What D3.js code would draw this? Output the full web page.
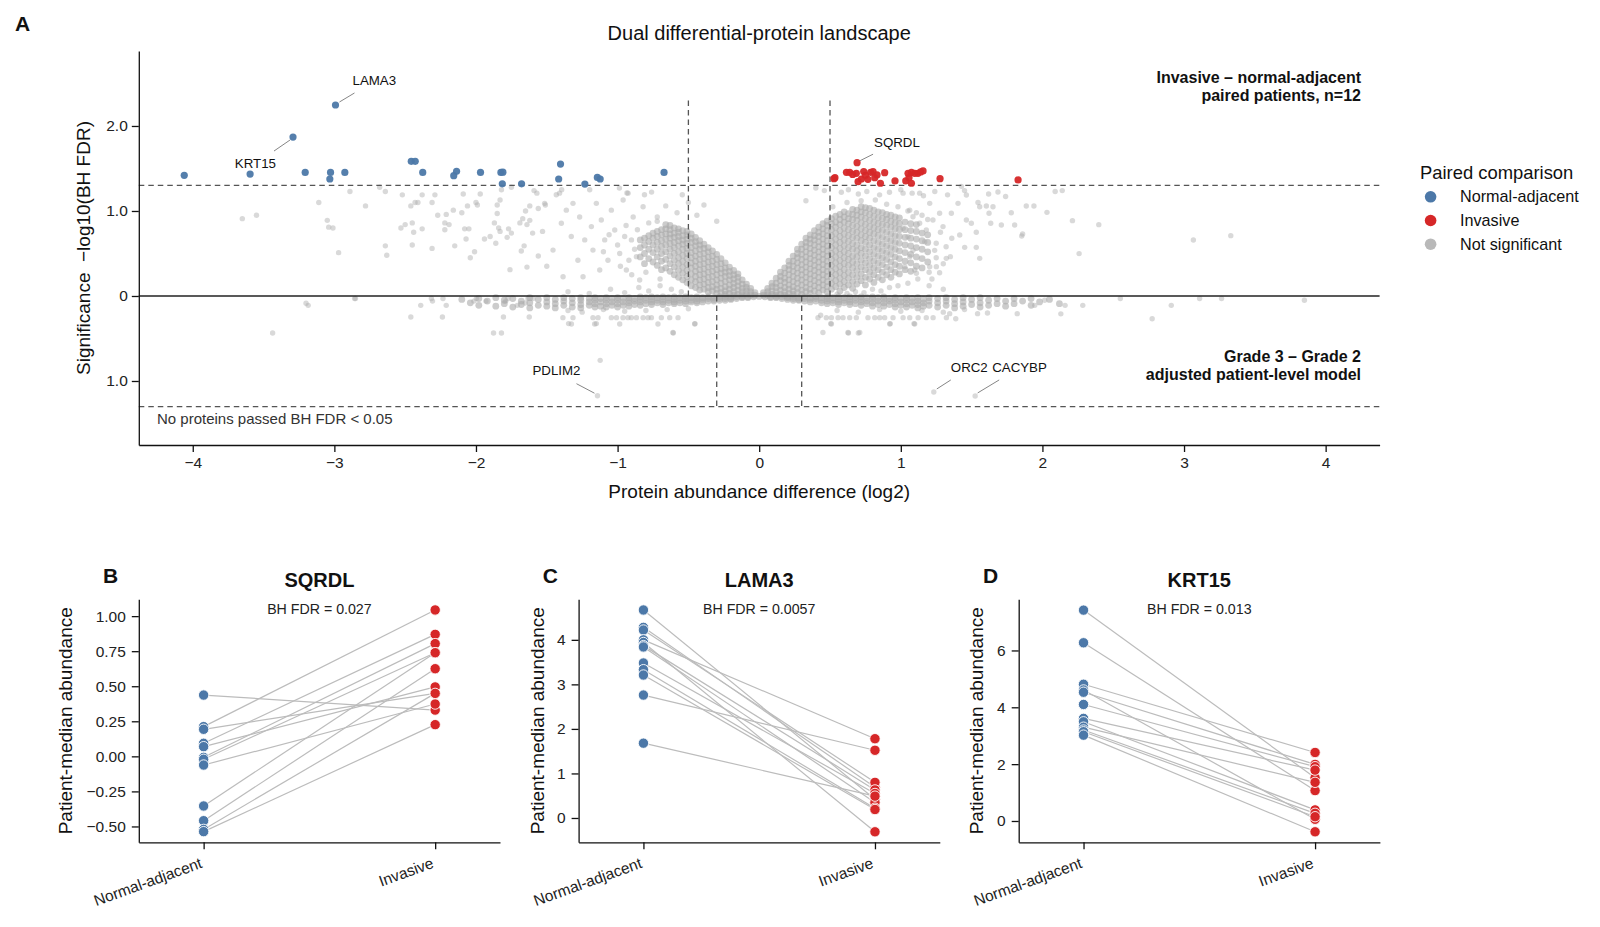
<!DOCTYPE html>
<meta charset="utf-8">
<head>
  <title>Dual differential-protein landscape</title>
</head>

<style>
body {
  margin: 0;
  background: #fff;
  font-family: "Liberation Sans", Arial, Helvetica, sans-serif;
}
text {
  fill: #111;
}
.axis path, .axis line {
  stroke: #111;
  stroke-width: 1.3;
}
.axis text {
  font-size: 15.5px;
  fill: #222;
  font-family: "Liberation Sans", Arial, sans-serif;
}
</style>

<body>
  <svg width="1600" height="927"></svg>

  <script src="https://cdnjs.cloudflare.com/ajax/libs/d3/7.8.5/d3.min.js"></script>

  <script>
  // ---------- panel A data: [log2 difference, signed -log10(BH FDR)] ----------
  // upper half = invasive vs normal-adjacent, lower half = grade 3 vs grade 2 (drawn negative)
  var normalHits = [
    [-4.06,1.419],[-3.595,1.434],[-3.292,1.870],[-2.992,2.247],[-3.206,1.454],[-3.027,1.454],
    [-3.032,1.376],[-2.926,1.454],[-2.457,1.584],[-2.429,1.584],[-2.376,1.454],[-2.157,1.415],
    [-2.137,1.466],[-1.968,1.454],[-1.824,1.454],[-1.81,1.456],[-1.814,1.320],[-1.678,1.320],
    [-1.403,1.552],[-1.416,1.376],[-1.231,1.317],[-1.143,1.395],[-1.123,1.376],[-0.672,1.454]
  ];
  var invasiveHits = [
    [0.691,1.568],[0.535,1.392],[0.528,1.38],[0.616,1.455],[0.639,1.455],[0.686,1.443],
    [0.698,1.345],[0.722,1.376],[0.738,1.463],[0.768,1.372],[0.787,1.455],[0.804,1.463],
    [0.816,1.392],[0.832,1.424],[0.856,1.326],[0.886,1.451],[0.959,1.353],[1.035,1.353],
    [1.051,1.443],[1.075,1.455],[1.075,1.326],[1.098,1.443],[1.121,1.443],[1.157,1.471],
    [1.058,1.392],[1.277,1.380],[1.828,1.365],[1.14,1.46],[0.66,1.43],[0.75,1.42]
  ];
  var upperSparse = [
    [-3.65,0.91],[-3.55,0.95],[-3.11,1.10],[-3.05,0.89],[-3.04,0.81],[-3.01,0.80],[-2.97,0.51],
    [-2.89,1.23],[-2.78,1.06],[-2.68,1.28],[-2.64,1.23],[-2.64,0.59],[-2.63,0.48],[-2.53,0.80],
    [-2.52,1.19],[-2.50,0.84],[-2.46,1.06],[-2.45,0.86],[-2.44,0.75],[-2.45,0.60],[-2.43,1.10],
    [-2.41,1.10],[-2.38,1.19],[-2.38,0.79],[-2.31,0.56],[-2.31,1.10],[-2.29,1.19],[-2.27,0.95],
    [-2.22,0.86],[-2.22,0.78],[-2.21,0.96],[-2.19,0.84],[-2.16,1.01],[-2.15,0.59],[-2.10,0.98],
    [-2.09,1.20],[-2.08,0.79],[-2.07,0.67],[-2.06,1.06],[-2.05,0.79],[-2.04,0.45],[-2.01,0.52],
    [-2.00,1.10],[-1.99,1.07],[-1.97,1.20],[-1.94,0.67],[-1.90,0.70],[-1.87,0.86],[-1.86,0.62],
    [-1.85,0.97],[-1.85,1.07],[-1.84,0.80],[-1.83,0.76],[-1.83,1.13],[-1.82,1.25],[-1.78,0.69],
    [-1.77,0.79],[-1.76,0.31],[-1.75,0.74],[-1.75,1.28],[-1.69,0.86],[-1.68,0.53],[-1.67,0.91],
    [-1.66,0.59],[-1.65,1.00],[-1.64,0.34],[-1.64,0.84],[-1.62,1.06],[-1.62,0.89],[-1.60,0.74],
    [-1.59,1.24],[-1.57,1.21],[-1.56,0.47],[-1.56,1.03],[-1.53,0.76],[-1.51,1.07],[-1.50,0.35],
    [-1.515,1.09],[-1.456,0.54],[-1.41,1.21],[-1.397,0.855],[-1.385,0.227],[-1.362,1.01],
    [-1.327,0.70],[-1.315,1.09],[-1.28,0.42],[-1.268,0.93],[-1.244,0.227],[-1.232,0.66],
    [-1.197,1.25],[-1.185,0.816],[-1.174,0.54],[-1.15,1.09],[-1.126,0.306],[-1.115,0.894],
    [-1.091,0.66],[-1.068,0.42],[-1.044,1.01],[-1.02,0.776],[-0.985,0.50],[-0.961,1.13],
    [-0.938,0.306],[-0.926,1.21],[-0.902,0.66],[-0.89,0.93],[-0.867,0.463],[-0.844,0.188],
    [-1.433,1.191],[-1.395,1.25],[-0.987,1.269],[-0.934,1.211],[-0.81,1.191],[-0.76,1.222],
    [-0.543,1.191],[-0.82,1.05],[-0.72,0.93],[-0.66,1.06],[-0.58,0.98],[-0.5,1.1],[-0.44,0.95],
    [-0.39,1.07],[-0.3,0.88],
    [-0.88,0.55],[-0.92,0.42],[-0.95,0.70],[-1.0,0.60],[-0.98,0.35],[-0.9,0.25],[-0.86,0.78],
    [-0.78,0.86],[-0.72,0.88],[-0.94,0.83],[-1.06,0.72],[-1.1,0.52],[-0.8,0.28],[-0.7,0.2],
    [0.33,1.12],[0.40,1.27],[0.46,1.24],[0.58,1.22],[0.63,1.25],[0.70,1.20],[0.76,1.23],
    [0.85,1.19],[0.92,1.22],[1.00,1.25],[1.08,1.21],[1.16,1.18],[1.24,1.23],[1.33,1.19],
    [1.45,1.24],[1.62,1.20],[1.74,1.17],
    [0.52,1.05],[0.62,1.1],[0.72,1.12],[0.82,1.13],[0.9,1.08],[0.98,1.05],[1.05,1.0],
    [1.22,0.2],[1.25,0.62],[1.28,0.75],[1.32,0.58],[1.36,0.68],[1.19,0.90],[1.15,0.95],
    [1.11,0.98],[1.25,0.45],[1.2,0.28],[1.3,0.38],
    [1.016,1.21],[1.133,1.21],[1.428,1.29],[1.463,1.188],[1.686,1.224],[1.886,1.059],[1.94,1.059],
    [2.032,0.984],[2.212,0.886],[2.398,0.839],[3.066,0.659],[3.33,0.71],[2.259,0.498],[1.854,0.706],
    [1.86,0.73],[1.804,0.835],[1.78,0.98],[1.71,0.835],[1.635,0.855],[1.623,0.973],[1.651,1.05],
    [1.604,1.059],[1.557,1.05],[1.545,1.1],[1.533,0.75],[1.557,0.443],[1.533,0.572],[1.451,0.572],
    [1.35,0.463],[1.321,0.443],[1.274,0.274],[1.251,0.345],[1.204,0.345],[1.098,0.306],[1.11,0.267],
    [1.028,0.345],[1.086,0.537],[1.239,0.537],[1.416,0.718],[1.463,0.894],[1.498,0.855],[1.404,1.09],
    [1.357,0.973],[1.274,0.973],[1.227,0.894],[1.298,0.816],[1.18,0.776],[1.133,0.855],[1.086,0.933],
    [1.063,1.01],[1.204,1.09],[1.169,0.639],[1.051,0.698],[1.016,0.796],[1.063,0.463],
    [2.09,1.23],[2.14,1.24]
  ];
  var upperFloor = [
    [0.55,0.02],[0.62,0.03],[0.68,0.05],[0.74,0.04],[0.8,0.08],[0.86,0.06],[0.92,0.1],[0.98,0.12],
    [1.05,0.15],[1.12,0.2],[1.2,0.12],[1.3,0.08],[-0.55,0.05],[-0.62,0.08],[-0.7,0.12],[-0.78,0.06],
    [-0.85,0.1],[-0.95,0.04],[-1.05,0.08],[-1.2,0.03],[-1.35,0.05]
  ];
  // dense core, read column by column: [log2 difference, [significance values]]
  var leftWing = [
    [-0.03,[0.01,0.04]],[-0.06,[0.01,0.05,0.09]],[-0.09,[0.02,0.06,0.10,0.14]],
    [-0.12,[0.01,0.05,0.09,0.14,0.19]],[-0.15,[0.02,0.07,0.12,0.17,0.22,0.26]],
    [-0.18,[0.01,0.05,0.10,0.15,0.20,0.25,0.30]],[-0.21,[0.03,0.08,0.13,0.19,0.24,0.29,0.34]],
    [-0.24,[0.02,0.06,0.11,0.17,0.23,0.28,0.33,0.39]],[-0.27,[0.04,0.09,0.15,0.21,0.27,0.32,0.38,0.44]],
    [-0.30,[0.03,0.08,0.13,0.19,0.25,0.31,0.37,0.43,0.49]],[-0.33,[0.06,0.11,0.17,0.23,0.29,0.35,0.41,0.47,0.53]],
    [-0.36,[0.05,0.10,0.16,0.22,0.28,0.34,0.40,0.46,0.52,0.57]],[-0.39,[0.08,0.14,0.20,0.26,0.32,0.38,0.44,0.50,0.56,0.61]],
    [-0.42,[0.07,0.13,0.19,0.25,0.31,0.37,0.43,0.49,0.55,0.60,0.65]],[-0.45,[0.10,0.17,0.23,0.29,0.35,0.41,0.47,0.53,0.59,0.64,0.69]],
    [-0.48,[0.12,0.19,0.26,0.33,0.39,0.45,0.51,0.57,0.63,0.68,0.73]],[-0.51,[0.16,0.23,0.30,0.37,0.44,0.50,0.56,0.62,0.67,0.72,0.76]],
    [-0.54,[0.19,0.27,0.34,0.41,0.48,0.55,0.61,0.66,0.71,0.77]],[-0.57,[0.22,0.30,0.38,0.45,0.52,0.59,0.65,0.70,0.75,0.79]],
    [-0.60,[0.25,0.34,0.42,0.50,0.57,0.63,0.69,0.74,0.80]],[-0.63,[0.29,0.38,0.47,0.55,0.62,0.68,0.73,0.78,0.83]],
    [-0.66,[0.33,0.43,0.52,0.60,0.67,0.73,0.79,0.84]],[-0.69,[0.31,0.41,0.50,0.58,0.65,0.72,0.78]],
    [-0.72,[0.36,0.46,0.55,0.63,0.70,0.76]],[-0.75,[0.40,0.51,0.60,0.68,0.74]],
    [-0.78,[0.44,0.55,0.64,0.71]],[-0.81,[0.38,0.50,0.60,0.68]],[-0.84,[0.46,0.57,0.66]]
  ];
  var rightWing = [
    [0.03,[0.01,0.04]],[0.06,[0.01,0.05,0.09]],[0.09,[0.02,0.06,0.11,0.15]],
    [0.12,[0.01,0.05,0.10,0.15,0.21]],[0.15,[0.02,0.07,0.12,0.18,0.23,0.28]],
    [0.18,[0.01,0.05,0.10,0.16,0.21,0.27,0.33]],[0.21,[0.03,0.08,0.13,0.19,0.25,0.31,0.36,0.41]],
    [0.24,[0.02,0.06,0.11,0.17,0.23,0.29,0.35,0.41,0.47]],[0.27,[0.04,0.09,0.15,0.21,0.27,0.33,0.39,0.45,0.50,0.55]],
    [0.30,[0.02,0.07,0.13,0.19,0.25,0.31,0.37,0.43,0.49,0.55,0.61]],
    [0.33,[0.05,0.10,0.16,0.22,0.28,0.34,0.40,0.46,0.52,0.58,0.63,0.68]],
    [0.36,[0.03,0.08,0.14,0.20,0.26,0.32,0.38,0.44,0.50,0.56,0.62,0.67,0.72]],
    [0.39,[0.06,0.12,0.18,0.24,0.30,0.36,0.42,0.48,0.54,0.60,0.66,0.71,0.77]],
    [0.42,[0.04,0.10,0.16,0.22,0.28,0.34,0.40,0.46,0.52,0.58,0.64,0.70,0.75,0.81]],
    [0.45,[0.07,0.13,0.19,0.25,0.31,0.37,0.43,0.49,0.55,0.61,0.67,0.73,0.79,0.85]],
    [0.48,[0.05,0.11,0.17,0.23,0.29,0.35,0.41,0.47,0.53,0.59,0.65,0.71,0.77,0.83,0.88]],
    [0.51,[0.08,0.15,0.22,0.29,0.36,0.43,0.50,0.57,0.64,0.71,0.78,0.85,0.91]],
    [0.54,[0.11,0.18,0.25,0.32,0.39,0.46,0.53,0.60,0.67,0.74,0.81,0.87,0.94]],
    [0.57,[0.06,0.14,0.21,0.28,0.35,0.42,0.49,0.56,0.63,0.70,0.77,0.84,0.90,0.96]],
    [0.60,[0.10,0.17,0.24,0.31,0.38,0.45,0.52,0.59,0.66,0.73,0.80,0.87,0.93,0.99]],
    [0.63,[0.13,0.21,0.28,0.36,0.43,0.50,0.57,0.64,0.71,0.78,0.85,0.91,0.97]],
    [0.66,[0.09,0.17,0.25,0.33,0.40,0.47,0.55,0.62,0.69,0.76,0.83,0.90,0.96,1.02]],
    [0.69,[0.14,0.22,0.30,0.38,0.46,0.53,0.60,0.68,0.75,0.82,0.89,0.95,1.01]],
    [0.72,[0.18,0.26,0.34,0.42,0.50,0.57,0.65,0.72,0.79,0.86,0.93,0.99,1.05]],
    [0.75,[0.13,0.22,0.31,0.39,0.47,0.55,0.63,0.70,0.77,0.84,0.91,0.98,1.04]],
    [0.78,[0.20,0.28,0.36,0.44,0.52,0.60,0.68,0.75,0.82,0.89,0.96,1.03]],
    [0.81,[0.16,0.25,0.33,0.41,0.49,0.57,0.65,0.73,0.80,0.87,0.94,1.01]],
    [0.84,[0.22,0.31,0.39,0.47,0.55,0.63,0.71,0.78,0.85,0.92,0.99]],
    [0.87,[0.19,0.28,0.37,0.45,0.53,0.61,0.69,0.77,0.84,0.91,0.98]],
    [0.90,[0.25,0.34,0.43,0.51,0.59,0.67,0.75,0.83,0.90,0.96]],
    [0.93,[0.22,0.31,0.40,0.49,0.57,0.65,0.73,0.81,0.88,0.95]],
    [0.96,[0.28,0.37,0.46,0.55,0.63,0.71,0.79,0.86,0.93]],
    [0.99,[0.26,0.35,0.44,0.53,0.62,0.70,0.78,0.85,0.92]],
    [1.03,[0.31,0.41,0.51,0.60,0.69,0.78,0.87]],[1.07,[0.29,0.39,0.49,0.59,0.68,0.77,0.85]],
    [1.11,[0.35,0.46,0.57,0.67,0.76,0.84]],[1.15,[0.33,0.44,0.55,0.65,0.74]],[1.19,[0.40,0.52,0.63,0.72]]
  ];
  var lowerBand = [
    [-2.10,[-0.04]],[-2.04,[-0.08]],[-1.98,[-0.03,-0.11]],[-1.92,[-0.06]],[-1.86,[-0.02,-0.12]],
    [-1.80,[-0.05,-0.09]],[-1.74,[-0.03,-0.13]],[-1.68,[-0.06,-0.10]],[-1.62,[-0.02,-0.08,-0.14]],
    [-1.56,[-0.04,-0.11]],[-1.50,[-0.02,-0.07,-0.12]],[-1.44,[-0.04,-0.09,-0.14]],[-1.38,[-0.02,-0.06,-0.11]],
    [-1.32,[-0.03,-0.08,-0.13]],[-1.26,[-0.02,-0.05,-0.10,-0.14]],[-1.20,[-0.03,-0.07,-0.11]],
    [-1.16,[-0.02,-0.05,-0.09,-0.13]],[-1.12,[-0.03,-0.07,-0.12]],[-1.08,[-0.02,-0.05,-0.09,-0.13]],
    [-1.04,[-0.03,-0.07,-0.11]],[-1.00,[-0.02,-0.05,-0.09,-0.13]],[-0.96,[-0.03,-0.07,-0.11]],
    [-0.92,[-0.02,-0.05,-0.08,-0.12]],[-0.88,[-0.03,-0.06,-0.10]],[-0.84,[-0.01,-0.04,-0.07,-0.11]],
    [-0.80,[-0.02,-0.05,-0.09]],[-0.76,[-0.01,-0.04,-0.07,-0.10]],[-0.72,[-0.02,-0.05,-0.08]],
    [-0.68,[-0.01,-0.04,-0.07,-0.10]],[-0.64,[-0.02,-0.05,-0.08]],[-0.60,[-0.01,-0.04,-0.07,-0.09]],
    [-0.56,[-0.02,-0.05,-0.08]],[-0.52,[-0.01,-0.03,-0.06,-0.09]],[-0.48,[-0.02,-0.05,-0.07]],
    [-0.44,[-0.01,-0.03,-0.06,-0.08]],[-0.40,[-0.02,-0.04,-0.07]],[-0.36,[-0.01,-0.03,-0.06]],
    [-0.32,[-0.02,-0.04,-0.06]],[-0.28,[-0.01,-0.03,-0.05]],[-0.24,[-0.01,-0.03,-0.05]],
    [-0.20,[-0.01,-0.03,-0.04]],[-0.16,[-0.01,-0.03]],[-0.12,[-0.01,-0.02]],[-0.08,[-0.01,-0.02]],
    [-0.04,[-0.01]],[0.00,[-0.005]],
    [0.04,[-0.01]],[0.08,[-0.01,-0.02]],[0.12,[-0.01,-0.02]],[0.16,[-0.01,-0.03]],[0.20,[-0.01,-0.02,-0.04]],
    [0.24,[-0.01,-0.03,-0.05]],[0.28,[-0.02,-0.04,-0.05]],[0.32,[-0.01,-0.03,-0.06]],[0.36,[-0.02,-0.04,-0.07]],
    [0.40,[-0.01,-0.03,-0.06]],[0.44,[-0.02,-0.05,-0.08]],[0.48,[-0.01,-0.03,-0.06,-0.09]],
    [0.52,[-0.02,-0.05,-0.08]],[0.56,[-0.01,-0.04,-0.07,-0.10]],[0.60,[-0.02,-0.05,-0.08]],
    [0.64,[-0.01,-0.04,-0.07,-0.10]],[0.68,[-0.02,-0.05,-0.09]],[0.72,[-0.01,-0.04,-0.07,-0.11]],
    [0.76,[-0.02,-0.06,-0.09]],[0.80,[-0.01,-0.04,-0.08,-0.12]],[0.84,[-0.02,-0.06,-0.10]],
    [0.88,[-0.01,-0.04,-0.08,-0.12]],[0.92,[-0.03,-0.06,-0.10]],[0.96,[-0.02,-0.05,-0.09,-0.13]],
    [1.00,[-0.03,-0.07,-0.11]],[1.04,[-0.02,-0.05,-0.09,-0.13]],[1.08,[-0.03,-0.07,-0.11]],
    [1.12,[-0.02,-0.06,-0.10,-0.14]],[1.16,[-0.04,-0.08,-0.12]],[1.20,[-0.02,-0.06,-0.11]],
    [1.26,[-0.03,-0.08,-0.13]],[1.32,[-0.02,-0.06,-0.11]],[1.38,[-0.04,-0.09,-0.14]],
    [1.44,[-0.02,-0.07,-0.12]],[1.50,[-0.04,-0.10]],[1.56,[-0.02,-0.08,-0.13]],[1.62,[-0.05,-0.11]],
    [1.68,[-0.03,-0.09]],[1.74,[-0.06,-0.12]],[1.80,[-0.03,-0.09]],[1.86,[-0.06]],[1.92,[-0.03,-0.11]],
    [1.98,[-0.07]],[2.05,[-0.04]],[2.12,[-0.09]]
  ];
  var lowerSparse = [
    [-3.185,-0.11],[-3.20,-0.085],[-2.851,-0.03],[-3.436,-0.435],[-2.46,-0.247],[-2.39,-0.11],
    [-2.307,-0.06],[-2.237,-0.247],[-2.21,-0.11],[-2.015,-0.06],[-1.93,-0.06],[-1.876,-0.435],
    [-1.82,-0.435],[-1.806,-0.247],[-1.79,-0.06],[-1.708,-0.11],[-1.652,-0.082],[-1.624,-0.247],
    [-1.346,-0.325],[-1.15,-0.325],[-0.607,-0.435],[-0.454,-0.325],[-1.123,-0.757],
    [-1.386,-0.255],[-1.315,-0.255],[-1.174,-0.255],[-1.138,-0.255],[-1.044,-0.255],[-1.008,-0.255],
    [-0.962,-0.255],[-0.927,-0.255],[-0.903,-0.255],[-0.867,-0.255],[-0.82,-0.255],[-0.785,-0.255],
    [-0.761,-0.255],[-0.691,-0.255],[-0.632,-0.255],[-0.573,-0.255],
    [-1.326,-0.33],[-1.162,-0.33],[-0.985,-0.33],[-0.715,-0.33],[-0.455,-0.33],[-0.609,-0.43],
    [0.45,-0.43],[0.627,-0.43],[0.71,-0.43],[0.51,-0.33],[0.922,-0.33],[1.098,-0.33],
    [0.415,-0.255],[0.474,-0.255],[0.51,-0.255],[0.557,-0.255],[0.592,-0.255],[0.639,-0.255],
    [0.686,-0.255],[0.768,-0.255],[0.816,-0.255],[0.851,-0.255],[0.886,-0.255],[0.945,-0.255],
    [1.016,-0.255],[1.063,-0.255],[1.122,-0.255],[1.18,-0.255],[1.228,-0.255],[1.322,-0.255],
    [0.434,-0.227],[0.505,-0.325],[0.63,-0.435],[0.70,-0.435],[0.925,-0.325],[1.093,-0.325],
    [1.345,-0.208],[1.388,-0.267],[1.542,-0.208],[1.612,-0.2],[1.822,-0.208],[1.946,-0.11],
    [2.016,-0.05],[2.16,-0.11],[2.285,-0.11],[2.55,-0.03],[2.775,-0.267],[3.11,-0.03],[3.265,-0.03],
    [3.85,-0.05],[2.91,-0.11],[2.13,-0.21],
    [-1.35,-0.17],[-1.25,-0.19],[-1.1,-0.16],[-0.95,-0.18],[-0.8,-0.17],[-0.65,-0.16],[-0.5,-0.15],
    [0.55,-0.17],[0.7,-0.19],[0.85,-0.16],[1.0,-0.18],[1.15,-0.17],[1.3,-0.19],[1.45,-0.16],
    [-2.857,-0.03],[-2.315,-0.03],[-2.233,-0.03],[-1.997,-0.03],[-1.774,-0.03],[-1.633,-0.03],[-1.597,-0.03]
  ];
  var labelledProteins = [
    {gene: 'LAMA3', diff: -2.992, sig: 2.247},
    {gene: 'KRT15', diff: -3.292, sig: 1.870},
    {gene: 'SQRDL', diff: 0.691, sig: 1.568},
    {gene: 'PDLIM2', diff: -1.142, sig: -1.173},
    {gene: 'ORC2', diff: 1.233, sig: -1.129},
    {gene: 'CACYBP', diff: 1.525, sig: -1.176}
  ];
  var xTicksA = [-4, -3, -2, -1, 0, 1, 2, 3, 4];
  var yTicksA = [2, 1, 0, -1];
  var fdrCut = 1.301;          // -log10(0.05)
  var foldCutPaired = 0.5;
  var foldCutGrade = 0.3;

  var legendItems = ['Normal-adjacent', 'Invasive', 'Not significant'];

  // ---------- panels B-D: patient medians, same patient order in both arrays ----------
  var groups = ['Normal-adjacent', 'Invasive'];
  var panelGenes = ['SQRDL', 'LAMA3', 'KRT15'];
  var panelLetters = ['B', 'C', 'D'];
  var panelFdr = ['BH FDR = 0.027', 'BH FDR = 0.0057', 'BH FDR = 0.013'];
  var sqrdlNormal   = [0.437, 0.212, 0.193, 0.093, 0.069, -0.007, -0.021, -0.062, -0.354, -0.459, -0.521, -0.537];
  var sqrdlInvasive = [0.330, 1.044, 0.449, 0.870, 0.495, 0.804, 0.739, 0.373, 0.739, 0.625, 0.449, 0.226];
  var lama3Normal   = [4.67, 4.28, 4.22, 4.00, 3.94, 3.87, 3.84, 3.48, 3.33, 3.21, 2.76, 1.68];
  var lama3Invasive = [0.42, 0.69, 0.80, 1.78, -0.31, 0.63, 0.35, 0.55, 0.22, 0.19, 1.52, 0.49];
  var krt15Normal   = [7.42, 6.27, 4.81, 4.61, 4.53, 4.10, 3.61, 3.49, 3.30, 3.20, 3.14, 3.02];
  var krt15Invasive = [1.52, 1.07, 2.41, 0.06, 1.99, 1.91, 1.79, 0.39, 1.36, 0.27, 0.15, -0.38];
  var yTicksB = [-0.5, -0.25, 0, 0.25, 0.5, 0.75, 1.0];
  var yTicksC = [0, 1, 2, 3, 4];
  var yTicksD = [0, 2, 4, 6];

  // ---------- drawing ----------
  var blue = '#4c78a8', red = '#d62728', grey = '#aaaaaa';
  var svg = d3.select('svg');

  function unpack(cols) {
    var out = [];
    cols.forEach(function(c) {
      c[1].forEach(function(v) { out.push([c[0], v]); });
    });
    return out;
  }

  var xA = d3.scaleLinear().domain([-4.381, 4.381]).range([138.8, 1379.6]);
  var yA = d3.scaleLinear().domain([-1.753, 2.882]).range([445, 51]);

  var sparsePts = upperSparse.concat(upperFloor, lowerSparse,
    labelledProteins.filter(function(d) { return d.sig < 0; }).map(function(d) { return [d.diff, d.sig]; }));
  var corePts = unpack(leftWing).concat(unpack(rightWing), unpack(lowerBand));

  var gA = svg.append('g');

  gA.selectAll('circle.core')
    .data(corePts)
    .enter()
    .append('circle')
    .attr('class', 'core')
    .attr('cx', function(d) { return xA(d[0]); })
    .attr('cy', function(d) { return yA(d[1]); })
    .attr('r', 3.4)
    .style('fill', grey)
    .style('fill-opacity', 0.6);

  gA.selectAll('circle.ns')
    .data(sparsePts)
    .enter()
    .append('circle')
    .attr('class', 'ns')
    .attr('cx', function(d) { return xA(d[0]); })
    .attr('cy', function(d) { return yA(d[1]); })
    .attr('r', 2.7)
    .style('fill', grey)
    .style('fill-opacity', 0.45);

  // threshold guides
  var dash = '5.5,4';
  [fdrCut, -fdrCut].forEach(function(v) {
    gA.append('line')
      .attr('x1', xA.range()[0]).attr('x2', xA.range()[1])
      .attr('y1', yA(v)).attr('y2', yA(v))
      .style('stroke', '#555').style('stroke-width', 1.3).style('stroke-dasharray', dash);
  });
  [-foldCutPaired, foldCutPaired].forEach(function(v) {
    gA.append('line')
      .attr('x1', xA(v)).attr('x2', xA(v))
      .attr('y1', yA(0)).attr('y2', yA(2.34))
      .style('stroke', '#555').style('stroke-width', 1.3).style('stroke-dasharray', dash);
  });
  [-foldCutGrade, foldCutGrade].forEach(function(v) {
    gA.append('line')
      .attr('x1', xA(v)).attr('x2', xA(v))
      .attr('y1', yA(0)).attr('y2', yA(-fdrCut))
      .style('stroke', '#555').style('stroke-width', 1.3).style('stroke-dasharray', dash);
  });
  gA.append('line')
    .attr('x1', xA.range()[0]).attr('x2', xA.range()[1])
    .attr('y1', yA(0)).attr('y2', yA(0))
    .style('stroke', '#222').style('stroke-width', 1.6);

  gA.selectAll('circle.nh')
    .data(normalHits)
    .enter()
    .append('circle')
    .attr('cx', function(d) { return xA(d[0]); })
    .attr('cy', function(d) { return yA(d[1]); })
    .attr('r', 3.6)
    .style('fill', blue)
    .style('fill-opacity', 0.95);

  gA.selectAll('circle.ih')
    .data(invasiveHits)
    .enter()
    .append('circle')
    .attr('cx', function(d) { return xA(d[0]); })
    .attr('cy', function(d) { return yA(d[1]); })
    .attr('r', 3.6)
    .style('fill', red)
    .style('fill-opacity', 0.95);

  // gene labels: text offset and leader line, in pixels from the point
  var labelLayout = {
    LAMA3:  {dx: 17, dy: -20, anchor: 'start', l: [4, -3, 19, -12]},
    KRT15:  {dx: -17, dy: 31, anchor: 'end', l: [-3, 3, -19, 14]},
    SQRDL:  {dx: 17, dy: -16, anchor: 'start', l: [3, -2, 16, -8.5]},
    PDLIM2: {dx: -17, dy: -21, anchor: 'end', l: [-3, -2.5, -21, -12]},
    ORC2:   {dx: 17, dy: -20, anchor: 'start', l: [3, -3, 17, -12]},
    CACYBP: {dx: 17, dy: -24, anchor: 'start', l: [2.5, -3, 24, -16]}
  };
  labelledProteins.forEach(function(d) {
    var px = xA(d.diff), py = yA(d.sig), o = labelLayout[d.gene];
    gA.append('line')
      .attr('x1', px + o.l[0]).attr('y1', py + o.l[1])
      .attr('x2', px + o.l[2]).attr('y2', py + o.l[3])
      .style('stroke', '#777').style('stroke-width', 0.9);
    gA.append('text')
      .attr('x', px + o.dx).attr('y', py + o.dy)
      .attr('text-anchor', o.anchor)
      .style('font-size', '13.3px')
      .text(d.gene);
  });

  svg.append('g')
    .attr('class', 'axis')
    .attr('transform', 'translate(0,445)')
    .call(d3.axisBottom(xA).tickValues(xTicksA).tickSize(7).tickPadding(5).tickSizeOuter(0)
      .tickFormat(d3.format('d')));

  svg.append('g')
    .attr('class', 'axis')
    .attr('transform', 'translate(138.8,0)')
    .call(d3.axisLeft(yA).tickValues(yTicksA).tickSize(7).tickPadding(4).tickSizeOuter(0)
      .tickFormat(function(d) { return d === 0 ? '0' : d3.format('.1f')(Math.abs(d)); }));

  svg.append('text')
    .attr('x', 759.2).attr('y', 40)
    .attr('text-anchor', 'middle')
    .style('font-size', '20px')
    .text('Dual differential-protein landscape');

  svg.append('text')
    .attr('x', 759.2).attr('y', 498)
    .attr('text-anchor', 'middle')
    .style('font-size', '19px')
    .text('Protein abundance difference (log2)');

  svg.append('text')
    .attr('transform', 'translate(90,248) rotate(-90)')
    .attr('text-anchor', 'middle')
    .style('font-size', '19px')
    .text('Significance\u00a0 \u2212log10(BH FDR)');

  svg.append('text')
    .attr('x', 15).attr('y', 31)
    .style('font-size', '21px').style('font-weight', 'bold')
    .text('A');

  var notes = [
    {lines: ['Invasive \u2013 normal-adjacent', 'paired patients, n=12'], y: 82.7},
    {lines: ['Grade 3 \u2013 Grade 2', 'adjusted patient-level model'], y: 361.7}
  ];
  notes.forEach(function(n) {
    n.lines.forEach(function(t, i) {
      svg.append('text')
        .attr('x', 1361).attr('y', n.y + i * 18)
        .attr('text-anchor', 'end')
        .style('font-size', '16px').style('font-weight', 'bold')
        .text(t);
    });
  });

  svg.append('text')
    .attr('x', 157).attr('y', 424)
    .style('font-size', '15px').style('fill', '#333')
    .text('No proteins passed BH FDR < 0.05');

  // legend
  var legend = svg.append('g').attr('transform', 'translate(1420,0)');
  legend.append('text')
    .attr('x', 0).attr('y', 178.5)
    .style('font-size', '18.4px')
    .text('Paired comparison');
  legend.selectAll('circle')
    .data(legendItems)
    .enter()
    .append('circle')
    .attr('cx', 10.6)
    .attr('cy', function(d, i) { return 196.8 + i * 23.7; })
    .attr('r', 5.8)
    .style('fill', function(d, i) { return [blue, red, '#b9b9b9'][i]; });
  legend.selectAll('text.item')
    .data(legendItems)
    .enter()
    .append('text')
    .attr('class', 'item')
    .attr('x', 40)
    .attr('y', function(d, i) { return 202.3 + i * 23.7; })
    .style('font-size', '16.2px')
    .text(function(d) { return d; });

  // ---------- paired panels ----------
  var panels = [
    {normal: sqrdlNormal, invasive: sqrdlInvasive, left: 138.8, domain: [-0.613, 1.12], ticks: yTicksB, fmt: d3.format('.2f'), labelOff: 66.5},
    {normal: lama3Normal, invasive: lama3Invasive, left: 578.6, domain: [-0.546, 4.91], ticks: yTicksC, fmt: d3.format('d'), labelOff: 35},
    {normal: krt15Normal, invasive: krt15Invasive, left: 1018.7, domain: [-0.75, 7.8], ticks: yTicksD, fmt: d3.format('d'), labelOff: 36}
  ];
  var pw = 361.2, pTop = 599.3, pBottom = 842.3;

  panels.forEach(function(p, k) {
    var x = d3.scalePoint().domain(groups).range([p.left, p.left + pw]).padding(0.28);
    var y = d3.scaleLinear().domain(p.domain).range([pBottom, pTop]);
    var g = svg.append('g');

    var pairs = p.normal.map(function(v, i) { return [v, p.invasive[i]]; });

    g.selectAll('line.pair')
      .data(pairs)
      .enter()
      .append('line')
      .attr('x1', x(groups[0])).attr('x2', x(groups[1]))
      .attr('y1', function(d) { return y(d[0]); })
      .attr('y2', function(d) { return y(d[1]); })
      .style('stroke', '#bcbcbc').style('stroke-width', 1.2);

    g.selectAll('circle.n')
      .data(p.normal)
      .enter()
      .append('circle')
      .attr('cx', x(groups[0]))
      .attr('cy', function(d) { return y(d); })
      .attr('r', 5.2)
      .style('fill', blue).style('stroke', '#fff').style('stroke-width', 0.9);

    g.selectAll('circle.i')
      .data(p.invasive)
      .enter()
      .append('circle')
      .attr('cx', x(groups[1]))
      .attr('cy', function(d) { return y(d); })
      .attr('r', 5.2)
      .style('fill', red).style('stroke', '#fff').style('stroke-width', 0.9);

    var gx = svg.append('g')
      .attr('class', 'axis')
      .attr('transform', 'translate(0,' + pBottom + ')')
      .call(d3.axisBottom(x).tickSize(7).tickSizeOuter(0));
    gx.selectAll('text')
      .attr('y', 0).attr('dy', 0)
      .attr('text-anchor', 'end')
      .attr('transform', 'translate(-1,25) rotate(-20)');

    svg.append('g')
      .attr('class', 'axis')
      .attr('transform', 'translate(' + p.left + ',0)')
      .call(d3.axisLeft(y).tickValues(p.ticks).tickSize(7).tickPadding(6).tickSizeOuter(0).tickFormat(p.fmt));

    var cx = p.left + pw / 2;
    svg.append('text')
      .attr('x', cx).attr('y', 586.7)
      .attr('text-anchor', 'middle')
      .style('font-size', '20px').style('font-weight', 'bold')
      .text(panelGenes[k]);
    svg.append('text')
      .attr('x', cx).attr('y', 614.3)
      .attr('text-anchor', 'middle')
      .style('font-size', '14.2px').style('fill', '#222')
      .text(panelFdr[k]);
    svg.append('text')
      .attr('x', p.left - 35.8).attr('y', 583)
      .style('font-size', '21px').style('font-weight', 'bold')
      .text(panelLetters[k]);
    svg.append('text')
      .attr('transform', 'translate(' + (p.left - p.labelOff) + ',' + ((pTop + pBottom) / 2) + ') rotate(-90)')
      .attr('text-anchor', 'middle')
      .style('font-size', '19px')
      .text('Patient-median abundance');
  });

  </script>
</body>
</html>
